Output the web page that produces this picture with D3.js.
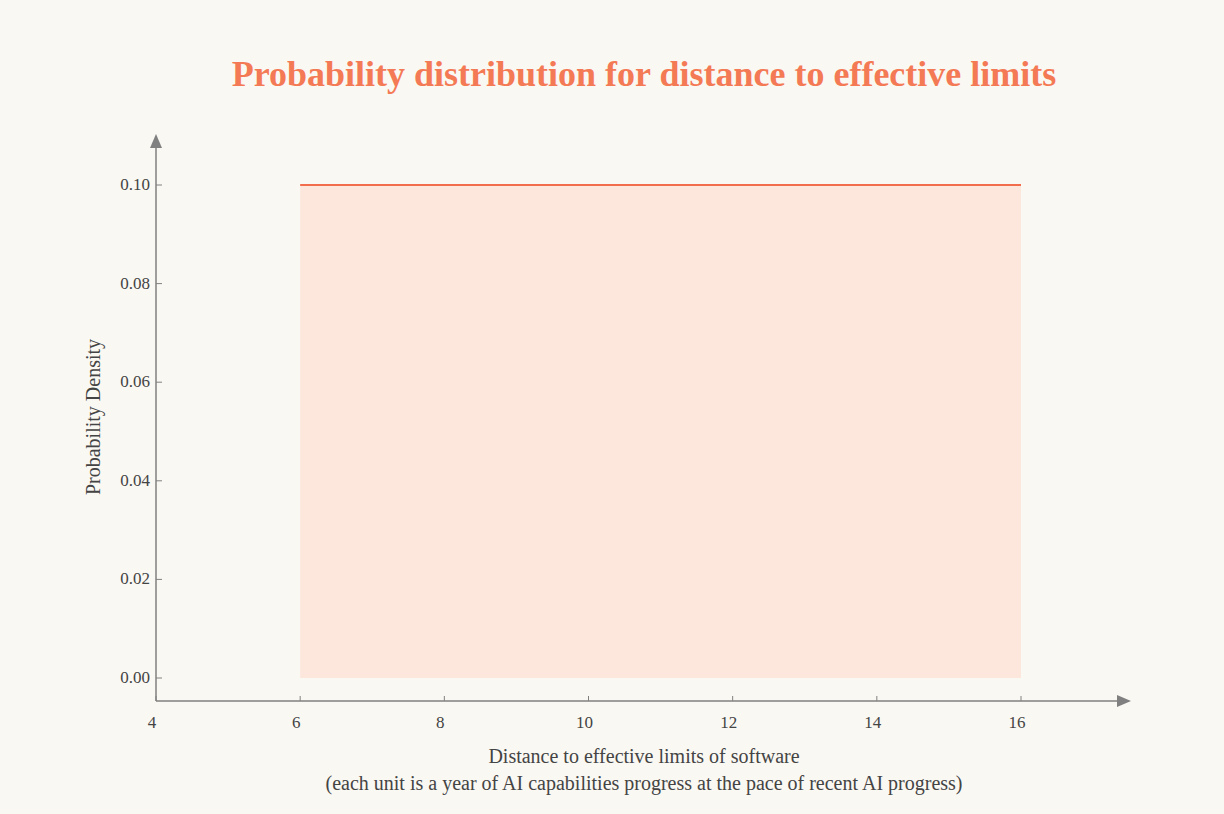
<!DOCTYPE html>
<html><head><meta charset="utf-8">
<script src="https://cdn.jsdelivr.net/npm/d3@7"></script>
<style>body{margin:0;background:#faf8f3}svg{display:block}text{font-family:"Liberation Serif","DejaVu Serif",serif}</style>
</head><body><svg id="c" width="1224" height="814"></svg>
<script>
const xs = [6, 16];
const density = [0.1, 0.1];
const xTicks = [4, 6, 8, 10, 12, 14, 16];
const yTicks = [0, 0.02, 0.04, 0.06, 0.08, 0.10];
const svg = d3.select("#c");
svg.append("rect").attr("width",1224).attr("height",814).attr("fill","#faf8f3");
const x = d3.scaleLinear().domain([4,16]).range([156,1021]);
const y = d3.scaleLinear().domain([0,0.1]).range([678,185]);
const axisY = 701, axisX = 156, grey = "#808080";
const pts = xs.map((v,i)=>[v,density[i]]);
svg.append("path").datum(pts).attr("fill","#fde6dc")
  .attr("d", d3.area().x(d=>x(d[0])).y0(y(0)).y1(d=>y(d[1])));
svg.append("path").datum(pts).attr("fill","none").attr("stroke","#f26d4b").attr("stroke-width",2)
  .attr("d", d3.line().x(d=>x(d[0])).y(d=>y(d[1])));
svg.append("line").attr("x1",axisX).attr("x2",1120).attr("y1",axisY).attr("y2",axisY).attr("stroke",grey).attr("stroke-width",1.5);
svg.append("line").attr("x1",axisX).attr("x2",axisX).attr("y1",axisY).attr("y2",145).attr("stroke",grey).attr("stroke-width",1.5);
svg.append("path").attr("d",`M1131,${axisY} L1117,${axisY-6} L1117,${axisY+6} Z`).attr("fill",grey);
svg.append("path").attr("d",`M${axisX},134 L${axisX-6},148 L${axisX+6},148 Z`).attr("fill",grey);
xTicks.forEach(t=>{
  svg.append("line").attr("x1",x(t)).attr("x2",x(t)).attr("y1",axisY).attr("y2",axisY-5).attr("stroke",grey);
  svg.append("text").attr("x",x(t)-4).attr("y",axisY+27).attr("text-anchor","middle").attr("font-size",17).attr("fill","#444").text(t);
});
yTicks.forEach(t=>{
  svg.append("line").attr("x1",axisX).attr("x2",axisX+6).attr("y1",y(t)).attr("y2",y(t)).attr("stroke",grey);
  svg.append("text").attr("x",axisX-6).attr("y",y(t)+5).attr("text-anchor","end").attr("font-size",17).attr("fill","#444").text(d3.format(".2f")(t));
});
svg.append("text").attr("x",644).attr("y",86).attr("text-anchor","middle").attr("font-size",36).attr("font-weight","bold").attr("fill","#f47a55").text("Probability distribution for distance to effective limits");
svg.append("text").attr("transform","translate(100,417) rotate(-90)").attr("text-anchor","middle").attr("font-size",20).attr("fill","#444").text("Probability Density");
svg.append("text").attr("x",644).attr("y",763).attr("text-anchor","middle").attr("font-size",20).attr("fill","#444").text("Distance to effective limits of software");
svg.append("text").attr("x",644).attr("y",790).attr("text-anchor","middle").attr("font-size",20).attr("fill","#444").text("(each unit is a year of AI capabilities progress at the pace of recent AI progress)");
</script></body></html>
